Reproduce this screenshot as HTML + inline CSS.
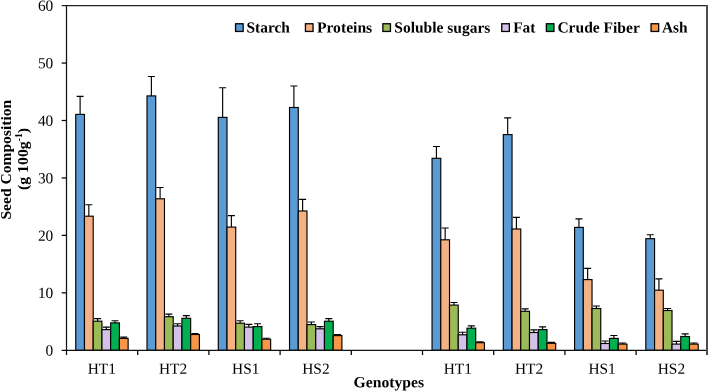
<!DOCTYPE html>
<html><head><meta charset="utf-8"><title>Seed composition</title>
<style>
html,body{margin:0;padding:0;background:#fff}
body{width:708px;height:391px;overflow:hidden}
text{font-family:"Liberation Serif",serif;fill:#000}
.b{font-weight:bold}
.r{font-weight:normal}
</style></head><body>
<svg width="708" height="391" viewBox="0 0 708 391" style="display:block;will-change:transform">
<rect width="708" height="391" fill="#fff"/>
<path d="M80.11 114.40V96.30M76.61 96.30H83.61" stroke="#000" stroke-width="1.15" fill="none"/>
<path d="M88.84 216.20V204.70M85.34 204.70H92.34" stroke="#000" stroke-width="1.15" fill="none"/>
<path d="M97.58 321.20V318.60M94.08 318.60H101.08" stroke="#000" stroke-width="1.15" fill="none"/>
<path d="M106.30 329.60V327.10M102.80 327.10H109.80" stroke="#000" stroke-width="1.15" fill="none"/>
<path d="M115.03 322.90V320.70M111.53 320.70H118.53" stroke="#000" stroke-width="1.15" fill="none"/>
<path d="M123.77 338.40V337.10M120.27 337.10H127.27" stroke="#000" stroke-width="1.15" fill="none"/>
<path d="M151.38 95.90V76.50M147.88 76.50H154.88" stroke="#000" stroke-width="1.15" fill="none"/>
<path d="M160.10 198.80V187.50M156.60 187.50H163.60" stroke="#000" stroke-width="1.15" fill="none"/>
<path d="M168.84 316.70V314.10M165.34 314.10H172.34" stroke="#000" stroke-width="1.15" fill="none"/>
<path d="M177.56 326.00V323.70M174.06 323.70H181.06" stroke="#000" stroke-width="1.15" fill="none"/>
<path d="M186.30 318.30V315.60M182.80 315.60H189.80" stroke="#000" stroke-width="1.15" fill="none"/>
<path d="M195.03 334.50V333.60M191.53 333.60H198.53" stroke="#000" stroke-width="1.15" fill="none"/>
<path d="M222.64 117.40V87.75M219.14 87.75H226.14" stroke="#000" stroke-width="1.15" fill="none"/>
<path d="M231.37 227.10V215.60M227.87 215.60H234.87" stroke="#000" stroke-width="1.15" fill="none"/>
<path d="M240.10 323.20V320.70M236.60 320.70H243.60" stroke="#000" stroke-width="1.15" fill="none"/>
<path d="M248.83 327.10V324.30M245.33 324.30H252.33" stroke="#000" stroke-width="1.15" fill="none"/>
<path d="M257.56 326.60V323.70M254.06 323.70H261.06" stroke="#000" stroke-width="1.15" fill="none"/>
<path d="M266.29 339.20V338.20M262.79 338.20H269.79" stroke="#000" stroke-width="1.15" fill="none"/>
<path d="M293.90 107.50V86.00M290.40 86.00H297.40" stroke="#000" stroke-width="1.15" fill="none"/>
<path d="M302.63 211.00V199.40M299.13 199.40H306.13" stroke="#000" stroke-width="1.15" fill="none"/>
<path d="M311.36 324.60V322.00M307.86 322.00H314.86" stroke="#000" stroke-width="1.15" fill="none"/>
<path d="M320.09 328.80V326.60M316.59 326.60H323.59" stroke="#000" stroke-width="1.15" fill="none"/>
<path d="M328.82 321.20V318.60M325.32 318.60H332.32" stroke="#000" stroke-width="1.15" fill="none"/>
<path d="M337.55 335.60V334.50M334.05 334.50H341.05" stroke="#000" stroke-width="1.15" fill="none"/>
<path d="M436.42 158.30V146.50M432.92 146.50H439.92" stroke="#000" stroke-width="1.15" fill="none"/>
<path d="M445.15 239.80V228.00M441.65 228.00H448.65" stroke="#000" stroke-width="1.15" fill="none"/>
<path d="M453.88 305.10V302.50M450.38 302.50H457.38" stroke="#000" stroke-width="1.15" fill="none"/>
<path d="M462.61 334.80V332.20M459.11 332.20H466.11" stroke="#000" stroke-width="1.15" fill="none"/>
<path d="M471.34 328.20V325.80M467.84 325.80H474.84" stroke="#000" stroke-width="1.15" fill="none"/>
<path d="M480.07 342.70V341.80M476.57 341.80H483.57" stroke="#000" stroke-width="1.15" fill="none"/>
<path d="M507.68 134.60V117.80M504.18 117.80H511.18" stroke="#000" stroke-width="1.15" fill="none"/>
<path d="M516.41 229.00V217.30M512.91 217.30H519.91" stroke="#000" stroke-width="1.15" fill="none"/>
<path d="M525.14 311.30V308.80M521.64 308.80H528.64" stroke="#000" stroke-width="1.15" fill="none"/>
<path d="M533.87 332.50V329.90M530.37 329.90H537.37" stroke="#000" stroke-width="1.15" fill="none"/>
<path d="M542.60 329.60V326.80M539.10 326.80H546.10" stroke="#000" stroke-width="1.15" fill="none"/>
<path d="M551.33 343.30V342.40M547.83 342.40H554.83" stroke="#000" stroke-width="1.15" fill="none"/>
<path d="M578.94 227.40V218.90M575.44 218.90H582.44" stroke="#000" stroke-width="1.15" fill="none"/>
<path d="M587.67 279.60V268.30M584.17 268.30H591.17" stroke="#000" stroke-width="1.15" fill="none"/>
<path d="M596.40 308.50V306.00M592.90 306.00H599.90" stroke="#000" stroke-width="1.15" fill="none"/>
<path d="M605.13 343.50V341.00M601.63 341.00H608.63" stroke="#000" stroke-width="1.15" fill="none"/>
<path d="M613.86 338.40V335.50M610.36 335.50H617.36" stroke="#000" stroke-width="1.15" fill="none"/>
<path d="M622.59 344.10V343.00M619.09 343.00H626.09" stroke="#000" stroke-width="1.15" fill="none"/>
<path d="M650.20 238.70V234.70M646.70 234.70H653.70" stroke="#000" stroke-width="1.15" fill="none"/>
<path d="M658.93 290.20V278.80M655.43 278.80H662.43" stroke="#000" stroke-width="1.15" fill="none"/>
<path d="M667.66 310.50V308.50M664.16 308.50H671.16" stroke="#000" stroke-width="1.15" fill="none"/>
<path d="M676.39 344.10V341.40M672.89 341.40H679.89" stroke="#000" stroke-width="1.15" fill="none"/>
<path d="M685.12 336.50V333.90M681.62 333.90H688.62" stroke="#000" stroke-width="1.15" fill="none"/>
<path d="M693.85 344.10V343.00M690.35 343.00H697.35" stroke="#000" stroke-width="1.15" fill="none"/>
<rect x="75.75" y="114.40" width="8.73" height="235.90" fill="#5B9BD5" stroke="#000" stroke-width="1.15"/>
<rect x="84.48" y="216.20" width="8.73" height="134.10" fill="#F4B183" stroke="#000" stroke-width="1.15"/>
<rect x="93.21" y="321.20" width="8.73" height="29.10" fill="#9BBB59" stroke="#000" stroke-width="1.15"/>
<rect x="101.94" y="329.60" width="8.73" height="20.70" fill="#D3C1E8" stroke="#000" stroke-width="1.15"/>
<rect x="110.67" y="322.90" width="8.73" height="27.40" fill="#00B050" stroke="#000" stroke-width="1.15"/>
<rect x="119.40" y="338.40" width="8.73" height="11.90" fill="#F79646" stroke="#000" stroke-width="1.15"/>
<rect x="147.01" y="95.90" width="8.73" height="254.40" fill="#5B9BD5" stroke="#000" stroke-width="1.15"/>
<rect x="155.74" y="198.80" width="8.73" height="151.50" fill="#F4B183" stroke="#000" stroke-width="1.15"/>
<rect x="164.47" y="316.70" width="8.73" height="33.60" fill="#9BBB59" stroke="#000" stroke-width="1.15"/>
<rect x="173.20" y="326.00" width="8.73" height="24.30" fill="#D3C1E8" stroke="#000" stroke-width="1.15"/>
<rect x="181.93" y="318.30" width="8.73" height="32.00" fill="#00B050" stroke="#000" stroke-width="1.15"/>
<rect x="190.66" y="334.50" width="8.73" height="15.80" fill="#F79646" stroke="#000" stroke-width="1.15"/>
<rect x="218.27" y="117.40" width="8.73" height="232.90" fill="#5B9BD5" stroke="#000" stroke-width="1.15"/>
<rect x="227.00" y="227.10" width="8.73" height="123.20" fill="#F4B183" stroke="#000" stroke-width="1.15"/>
<rect x="235.73" y="323.20" width="8.73" height="27.10" fill="#9BBB59" stroke="#000" stroke-width="1.15"/>
<rect x="244.46" y="327.10" width="8.73" height="23.20" fill="#D3C1E8" stroke="#000" stroke-width="1.15"/>
<rect x="253.19" y="326.60" width="8.73" height="23.70" fill="#00B050" stroke="#000" stroke-width="1.15"/>
<rect x="261.92" y="339.20" width="8.73" height="11.10" fill="#F79646" stroke="#000" stroke-width="1.15"/>
<rect x="289.53" y="107.50" width="8.73" height="242.80" fill="#5B9BD5" stroke="#000" stroke-width="1.15"/>
<rect x="298.26" y="211.00" width="8.73" height="139.30" fill="#F4B183" stroke="#000" stroke-width="1.15"/>
<rect x="306.99" y="324.60" width="8.73" height="25.70" fill="#9BBB59" stroke="#000" stroke-width="1.15"/>
<rect x="315.72" y="328.80" width="8.73" height="21.50" fill="#D3C1E8" stroke="#000" stroke-width="1.15"/>
<rect x="324.45" y="321.20" width="8.73" height="29.10" fill="#00B050" stroke="#000" stroke-width="1.15"/>
<rect x="333.18" y="335.60" width="8.73" height="14.70" fill="#F79646" stroke="#000" stroke-width="1.15"/>
<rect x="432.05" y="158.30" width="8.73" height="192.00" fill="#5B9BD5" stroke="#000" stroke-width="1.15"/>
<rect x="440.78" y="239.80" width="8.73" height="110.50" fill="#F4B183" stroke="#000" stroke-width="1.15"/>
<rect x="449.51" y="305.10" width="8.73" height="45.20" fill="#9BBB59" stroke="#000" stroke-width="1.15"/>
<rect x="458.24" y="334.80" width="8.73" height="15.50" fill="#D3C1E8" stroke="#000" stroke-width="1.15"/>
<rect x="466.97" y="328.20" width="8.73" height="22.10" fill="#00B050" stroke="#000" stroke-width="1.15"/>
<rect x="475.70" y="342.70" width="8.73" height="7.60" fill="#F79646" stroke="#000" stroke-width="1.15"/>
<rect x="503.31" y="134.60" width="8.73" height="215.70" fill="#5B9BD5" stroke="#000" stroke-width="1.15"/>
<rect x="512.04" y="229.00" width="8.73" height="121.30" fill="#F4B183" stroke="#000" stroke-width="1.15"/>
<rect x="520.77" y="311.30" width="8.73" height="39.00" fill="#9BBB59" stroke="#000" stroke-width="1.15"/>
<rect x="529.50" y="332.50" width="8.73" height="17.80" fill="#D3C1E8" stroke="#000" stroke-width="1.15"/>
<rect x="538.23" y="329.60" width="8.73" height="20.70" fill="#00B050" stroke="#000" stroke-width="1.15"/>
<rect x="546.96" y="343.30" width="8.73" height="7.00" fill="#F79646" stroke="#000" stroke-width="1.15"/>
<rect x="574.57" y="227.40" width="8.73" height="122.90" fill="#5B9BD5" stroke="#000" stroke-width="1.15"/>
<rect x="583.30" y="279.60" width="8.73" height="70.70" fill="#F4B183" stroke="#000" stroke-width="1.15"/>
<rect x="592.03" y="308.50" width="8.73" height="41.80" fill="#9BBB59" stroke="#000" stroke-width="1.15"/>
<rect x="600.76" y="343.50" width="8.73" height="6.80" fill="#D3C1E8" stroke="#000" stroke-width="1.15"/>
<rect x="609.49" y="338.40" width="8.73" height="11.90" fill="#00B050" stroke="#000" stroke-width="1.15"/>
<rect x="618.22" y="344.10" width="8.73" height="6.20" fill="#F79646" stroke="#000" stroke-width="1.15"/>
<rect x="645.83" y="238.70" width="8.73" height="111.60" fill="#5B9BD5" stroke="#000" stroke-width="1.15"/>
<rect x="654.56" y="290.20" width="8.73" height="60.10" fill="#F4B183" stroke="#000" stroke-width="1.15"/>
<rect x="663.29" y="310.50" width="8.73" height="39.80" fill="#9BBB59" stroke="#000" stroke-width="1.15"/>
<rect x="672.02" y="344.10" width="8.73" height="6.20" fill="#D3C1E8" stroke="#000" stroke-width="1.15"/>
<rect x="680.75" y="336.50" width="8.73" height="13.80" fill="#00B050" stroke="#000" stroke-width="1.15"/>
<rect x="689.48" y="344.10" width="8.73" height="6.20" fill="#F79646" stroke="#000" stroke-width="1.15"/>
<path d="M66.5 5.0V355.1" stroke="#111" stroke-width="1.25" fill="none"/>
<path d="M61.7 350.3H707.0" stroke="#111" stroke-width="1.25" fill="none"/>
<path d="M61.7 5.6H708" stroke="#222" stroke-width="1.1" fill="none"/>
<path d="M707.0 5.1V355.1" stroke="#4d4d4d" stroke-width="2" fill="none"/>
<text transform="translate(53.3 355.55) rotate(0.03)" text-anchor="end" font-size="15.4" class="r">0</text>
<path d="M61.7 292.85H66.5" stroke="#000" stroke-width="1.25"/>
<text transform="translate(53.3 298.10) rotate(0.03)" text-anchor="end" font-size="15.4" class="r">10</text>
<path d="M61.7 235.40H66.5" stroke="#000" stroke-width="1.25"/>
<text transform="translate(53.3 240.65) rotate(0.03)" text-anchor="end" font-size="15.4" class="r">20</text>
<path d="M61.7 177.95H66.5" stroke="#000" stroke-width="1.25"/>
<text transform="translate(53.3 183.20) rotate(0.03)" text-anchor="end" font-size="15.4" class="r">30</text>
<path d="M61.7 120.50H66.5" stroke="#000" stroke-width="1.25"/>
<text transform="translate(53.3 125.75) rotate(0.03)" text-anchor="end" font-size="15.4" class="r">40</text>
<path d="M61.7 63.05H66.5" stroke="#000" stroke-width="1.25"/>
<text transform="translate(53.3 68.30) rotate(0.03)" text-anchor="end" font-size="15.4" class="r">50</text>
<text transform="translate(53.3 10.85) rotate(0.03)" text-anchor="end" font-size="15.4" class="r">60</text>
<path d="M137.70 350.3V355.1" stroke="#000" stroke-width="1.25"/>
<path d="M208.90 350.3V355.1" stroke="#000" stroke-width="1.25"/>
<path d="M280.10 350.3V355.1" stroke="#000" stroke-width="1.25"/>
<path d="M351.30 350.3V355.1" stroke="#000" stroke-width="1.25"/>
<path d="M422.50 350.3V355.1" stroke="#000" stroke-width="1.25"/>
<path d="M493.70 350.3V355.1" stroke="#000" stroke-width="1.25"/>
<path d="M564.90 350.3V355.1" stroke="#000" stroke-width="1.25"/>
<path d="M636.10 350.3V355.1" stroke="#000" stroke-width="1.25"/>
<text transform="translate(101.80 373.8) rotate(0.03)" text-anchor="middle" font-size="15.4" class="r">HT1</text>
<text transform="translate(173.00 373.8) rotate(0.03)" text-anchor="middle" font-size="15.4" class="r">HT2</text>
<text transform="translate(245.70 373.8) rotate(0.03)" text-anchor="middle" font-size="15.4" class="r">HS1</text>
<text transform="translate(315.90 373.8) rotate(0.03)" text-anchor="middle" font-size="15.4" class="r">HS2</text>
<text transform="translate(457.80 373.8) rotate(0.03)" text-anchor="middle" font-size="15.4" class="r">HT1</text>
<text transform="translate(529.00 373.8) rotate(0.03)" text-anchor="middle" font-size="15.4" class="r">HT2</text>
<text transform="translate(602.10 373.8) rotate(0.03)" text-anchor="middle" font-size="15.4" class="r">HS1</text>
<text transform="translate(671.40 373.8) rotate(0.03)" text-anchor="middle" font-size="15.4" class="r">HS2</text>
<text transform="translate(353.6 387.2) rotate(0.03)" font-size="15.4" class="b" textLength="70.4" lengthAdjust="spacingAndGlyphs">Genotypes</text>
<text transform="translate(10.9 219.6) rotate(-90)" font-size="15.4" class="b" textLength="119.8" lengthAdjust="spacingAndGlyphs">Seed Composition</text>
<text transform="translate(27.5 190.1) rotate(-90)" font-size="15.4" class="b" textLength="62.2" lengthAdjust="spacingAndGlyphs">(g 100g<tspan font-size="9.4" dy="-5.6">-1</tspan><tspan dy="5.6">)</tspan></text>
<rect x="235.55" y="23.75" width="7.6" height="7.7" fill="#5B9BD5" stroke="#000" stroke-width="1.3"/>
<text transform="translate(246.50 32.6) rotate(0.03)" font-size="15.4" class="b" textLength="43.33" lengthAdjust="spacingAndGlyphs">Starch</text>
<rect x="305.45" y="23.75" width="7.6" height="7.7" fill="#F4B183" stroke="#000" stroke-width="1.3"/>
<text transform="translate(316.90 32.6) rotate(0.03)" font-size="15.4" class="b" textLength="55.3" lengthAdjust="spacingAndGlyphs">Proteins</text>
<rect x="382.85" y="23.75" width="7.6" height="7.7" fill="#9BBB59" stroke="#000" stroke-width="1.3"/>
<text transform="translate(394.30 32.6) rotate(0.03)" font-size="15.4" class="b" textLength="96.0" lengthAdjust="spacingAndGlyphs">Soluble sugars</text>
<rect x="501.75" y="23.75" width="7.6" height="7.7" fill="#D3C1E8" stroke="#000" stroke-width="1.3"/>
<text transform="translate(513.20 32.6) rotate(0.03)" font-size="15.4" class="b" textLength="22.23" lengthAdjust="spacingAndGlyphs">Fat</text>
<rect x="546.35" y="23.75" width="7.6" height="7.7" fill="#00B050" stroke="#000" stroke-width="1.3"/>
<text transform="translate(557.40 32.6) rotate(0.03)" font-size="15.4" class="b" textLength="82.4" lengthAdjust="spacingAndGlyphs">Crude Fiber</text>
<rect x="651.05" y="23.75" width="7.6" height="7.7" fill="#F79646" stroke="#000" stroke-width="1.3"/>
<text transform="translate(662.00 32.6) rotate(0.03)" font-size="15.4" class="b" textLength="25.67" lengthAdjust="spacingAndGlyphs">Ash</text>
</svg>
</body></html>
